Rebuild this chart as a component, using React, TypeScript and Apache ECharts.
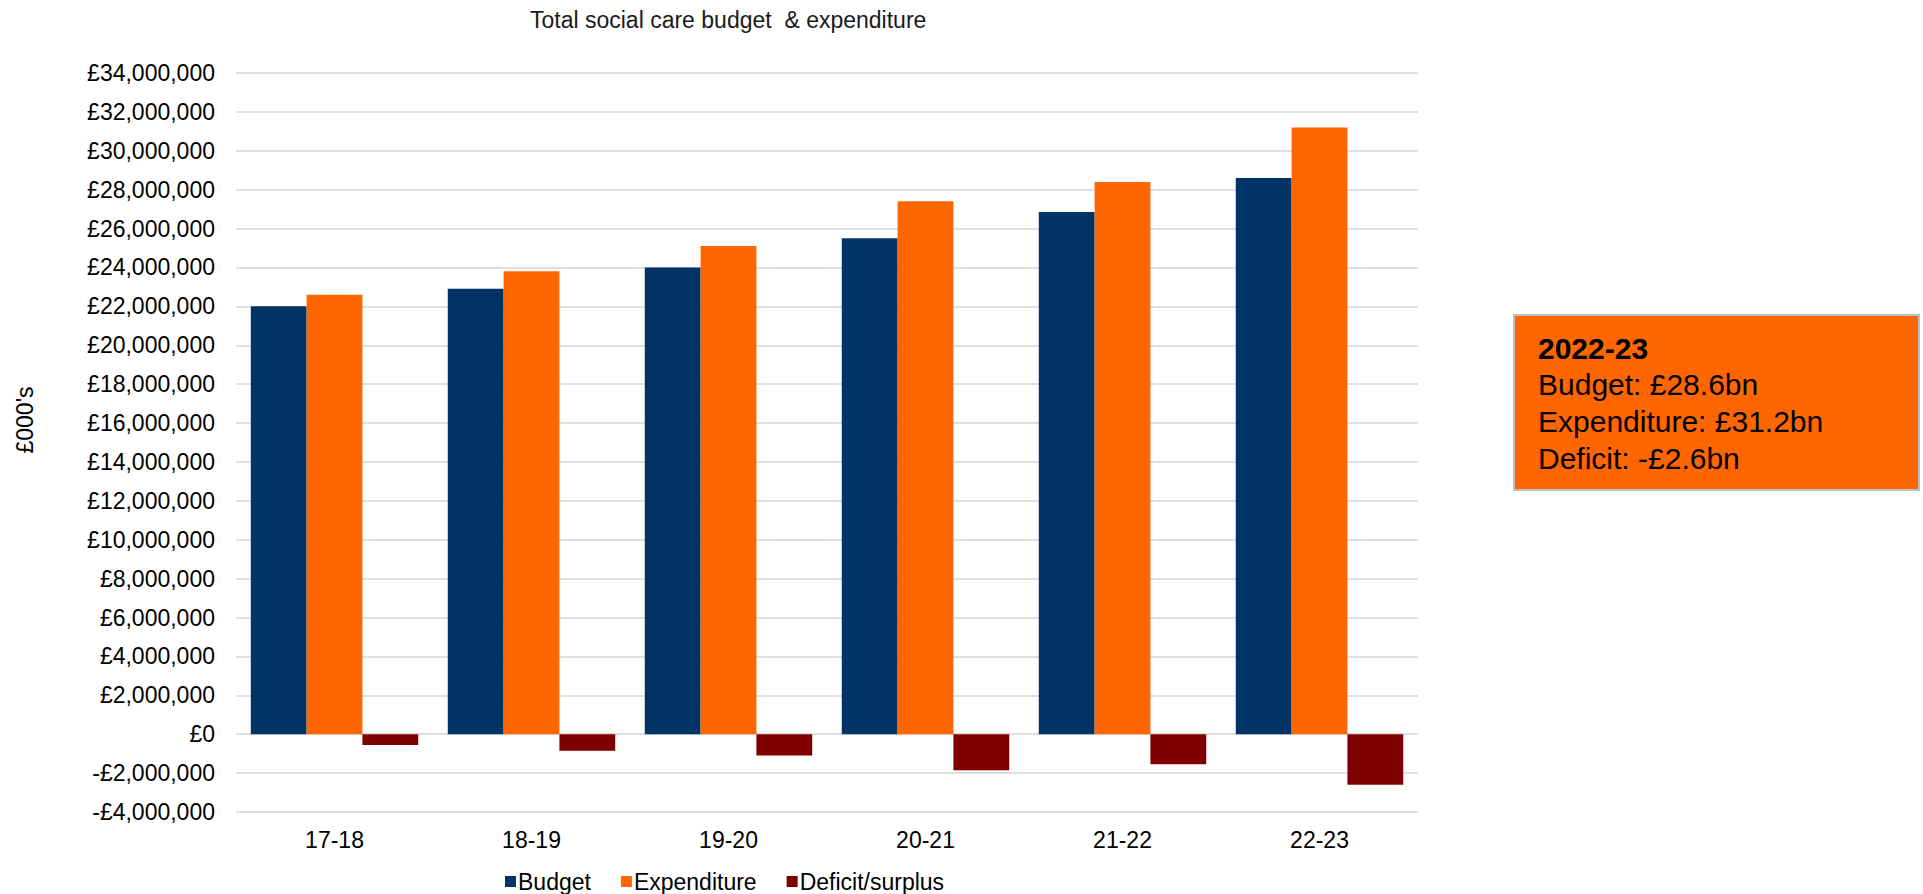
import React, { useEffect, useRef } from "react";
import * as echarts from "echarts";

const categories = ["17-18", "18-19", "19-20", "20-21", "21-22", "22-23"];
const budget = [22000000, 22900000, 24000000, 25500000, 26850000, 28600000];
const expenditure = [22600000, 23800000, 25100000, 27400000, 28400000, 31200000];
const deficit = [-550000, -850000, -1100000, -1850000, -1550000, -2600000];
const seriesNames = ["Budget", "Expenditure", "Deficit/surplus"];
const titleText = "Total social care budget  & expenditure";
const yAxisName = "£000's";
const noteLines = ["2022-23", "Budget: £28.6bn", "Expenditure: £31.2bn", "Deficit: -£2.6bn"];

const FONT = "'Liberation Sans', Arial, sans-serif";

function fmt(v: number): string {
  const sign = v < 0 ? "-" : "";
  const s = Math.abs(v).toString().replace(/\B(?=(\d{3})+(?!\d))/g, ",");
  return sign + "£" + s;
}

export default function App() {
  const ref = useRef<HTMLDivElement>(null);
  useEffect(() => {
    if (!ref.current) return;
    const chart = echarts.init(ref.current, null, { renderer: "svg" });
    chart.setOption({
      animation: false,
      backgroundColor: "#ffffff",
      textStyle: { fontFamily: FONT },
      title: {
        text: titleText,
        left: 530,
        top: 8,
        padding: 0,
        textStyle: { fontFamily: FONT, fontSize: 23, fontWeight: "normal", color: "#1a1a1a" },
      },
      legend: {
        data: seriesNames,
        left: 505,
        top: 870,
        padding: 0,
        itemWidth: 11,
        itemHeight: 11,
        itemGap: 30,
        icon: "rect",
        textStyle: { fontFamily: FONT, fontSize: 23, color: "#000", padding: [0, 0, 0, -3] },
      },
      grid: { left: 236, right: 505, top: 73, bottom: 82, containLabel: false },
      xAxis: {
        type: "category",
        data: categories,
        axisLine: { show: false },
        axisTick: { show: false },
        axisLabel: { fontFamily: FONT, fontSize: 23, color: "#000", margin: 16 },
      },
      yAxis: {
        type: "value",
        min: -4000000,
        max: 34000000,
        interval: 2000000,
        axisLine: { show: false },
        axisTick: { show: false },
        splitLine: { lineStyle: { color: "#d4d4d4", width: 1.5 } },
        axisLabel: { fontFamily: FONT, fontSize: 23, color: "#000", margin: 21, formatter: fmt },
      },
      series: [
        {
          name: seriesNames[0],
          type: "bar",
          data: budget,
          itemStyle: { color: "#003366" },
          barGap: "0%",
          barCategoryGap: "15%",
        },
        {
          name: seriesNames[1],
          type: "bar",
          data: expenditure,
          itemStyle: { color: "#ff6600" },
        },
        {
          name: seriesNames[2],
          type: "bar",
          data: deficit,
          itemStyle: { color: "#800000" },
        },
      ],
      graphic: [
        {
          type: "text",
          x: 25,
          y: 420,
          rotation: Math.PI / 2,
          style: {
            text: yAxisName,
            fontFamily: FONT,
            fontSize: 23,
            fill: "#000",
            align: "center",
            verticalAlign: "middle",
          },
        },
        {
          type: "group",
          left: 1513,
          top: 314,
          children: [
            {
              type: "rect",
              shape: { x: 0, y: 0, width: 405, height: 175 },
              style: { fill: "#ff6600", stroke: "#bfbfbf", lineWidth: 2 },
            },
            ...noteLines.map((t, i) => ({
              type: "text",
              x: 24,
              y: 33 + i * 36.7,
              style: {
                text: t,
                fontFamily: FONT,
                fontSize: 30,
                fontWeight: i === 0 ? "bold" : "normal",
                fill: "#000",
                verticalAlign: "middle",
              },
            })),
          ],
        },
      ],
    });
    return () => chart.dispose();
  }, []);
  return (
    <div
      ref={ref}
      style={{ position: "fixed", left: 0, top: 0, width: "1923px", height: "894px" }}
    />
  );
}
